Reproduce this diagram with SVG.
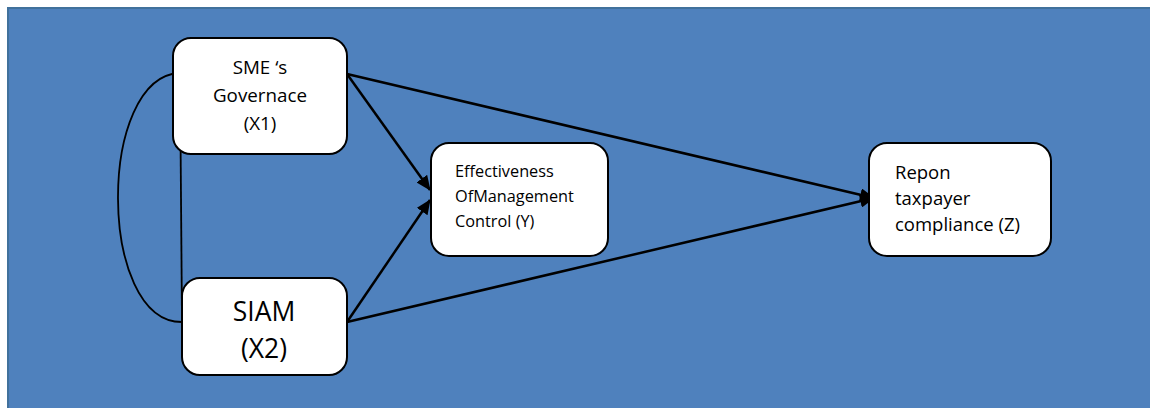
<svg xmlns="http://www.w3.org/2000/svg" width="1150" height="408" viewBox="0 0 1150 408">
<style>
.node{fill:#ffffff;stroke:#000000;stroke-width:2}
.t{font-family:"Open Sans","Liberation Sans",sans-serif;fill:#000000}
.edge{fill:none;stroke:#000000;stroke-width:2.5}
.thin{fill:none;stroke:#000000;stroke-width:1.8}
</style>
<defs>
<marker id="arr" markerUnits="userSpaceOnUse" markerWidth="15" markerHeight="13" refX="14" refY="6.5" orient="auto">
<path d="M0,0 L15,6.5 L0,13 z" fill="#000000"/>
</marker>
</defs>
<rect x="0" y="0" width="1150" height="408" fill="#ffffff"/>
<rect x="8" y="8" width="1150" height="410" fill="#4F81BD" stroke="#41719C" stroke-width="2"/>
<g id="connectors">
<path class="thin" d="M180,73 C97,76 97,322 182,322"/>
<path class="thin" d="M180,73 L182,322"/>
<path class="edge" d="M347,74 L430,190" marker-end="url(#arr)"/>
<path class="edge" d="M347,322 L430,200" marker-end="url(#arr)"/>
<path class="edge" d="M347,74 L874,198" marker-end="url(#arr)"/>
<path class="edge" d="M347,322 L874,198" marker-end="url(#arr)"/>
</g>
<g id="x1">
<rect class="node" x="173" y="38" width="174" height="116" rx="18"/>
<text class="t" font-size="18.8" text-anchor="middle" x="260" y="74">SME ‘s</text>
<text class="t" font-size="18.8" text-anchor="middle" x="260" y="102">Governace</text>
<text class="t" font-size="18.8" text-anchor="middle" x="260" y="130">(X1)</text>
</g>
<g id="x2">
<rect class="node" x="182" y="278" width="165" height="97" rx="18"/>
<text class="t" font-size="26.5" text-anchor="middle" x="264" y="321">SIAM</text>
<text class="t" font-size="26.5" text-anchor="middle" x="264" y="358">(X2)</text>
</g>
<g id="y">
<rect class="node" x="431" y="143" width="177" height="113" rx="18"/>
<text class="t" font-size="16.3" x="455" y="177">Effectiveness</text>
<text class="t" font-size="16.3" x="455" y="202">OfManagement</text>
<text class="t" font-size="16.3" x="455" y="227">Control (Y)</text>
</g>
<g id="z">
<rect class="node" x="869" y="143" width="182" height="113" rx="18"/>
<text class="t" font-size="18.5" x="895" y="179">Repon</text>
<text class="t" font-size="18.5" x="895" y="205">taxpayer</text>
<text class="t" font-size="18.5" x="895" y="231">compliance (Z)</text>
</g>
</svg>
